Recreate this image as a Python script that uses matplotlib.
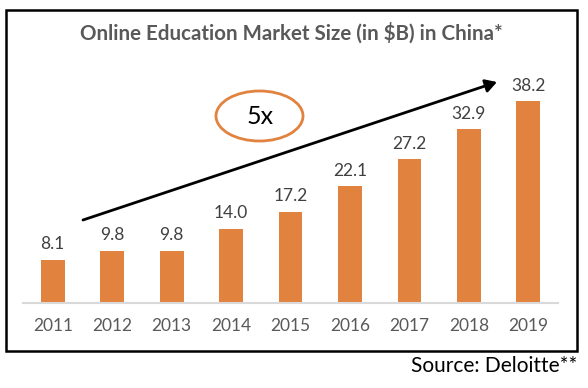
import matplotlib
matplotlib.use("Agg")
import matplotlib.pyplot as plt
from matplotlib.patches import Ellipse, Rectangle

years = ["2011", "2012", "2013", "2014", "2015", "2016", "2017", "2018", "2019"]
values = [8.1, 9.8, 9.8, 14.0, 17.2, 22.1, 27.2, 32.9, 38.2]
value_labels = ["8.1", "9.8", "9.8", "14.0", "17.2", "22.1", "27.2", "32.9", "38.2"]
title = "Online Education Market Size (in $B) in China*"
source = "Source: Deloitte**"
growth = "5x"

W, H = 588, 388
fig = plt.figure(figsize=(W / 100, H / 100), dpi=100)
plt.rcParams['font.family'] = ['Lato', 'DejaVu Sans']

def fx(px):
    return px / W

def fy(py):
    return 1 - py / H

# axes: baseline at y=302.7, left 23, right 558; 5.27 px per unit
ymax = 45
bottom_px = 302.7
height_px = ymax * 5.27
ax = fig.add_axes([fx(23), fy(bottom_px), fx(558) - fx(23), height_px / H])
x = list(range(len(years)))
bars = ax.bar(x, values, width=0.4, color="#E2823F")
ax.set_xlim(-0.5, len(years) - 0.5)
ax.set_ylim(0, ymax)
for s in ["top", "right", "left"]:
    ax.spines[s].set_visible(False)
ax.spines["bottom"].set_color("#D9D9D9")
ax.spines["bottom"].set_linewidth(1.5)
ax.set_yticks([])
ax.set_xticks(x)
ax.set_xticklabels(years, fontsize=12.5, color="#595959")
ax.tick_params(axis="x", length=0, pad=11)
for xi, v, lab in zip(x, values, value_labels):
    ax.annotate(lab, (xi, v), xytext=(0, 5.5), textcoords="offset points",
                ha="center", va="bottom", fontsize=12.5, color="#404040")

fig.text(fx(291), fy(33), title, ha="center", va="center", fontsize=14.8,
         fontweight="bold", color="#595959")
fig.text(fx(577), fy(366), source, ha="right", va="center", fontsize=15, color="black")

# border
fig.patches.append(Rectangle((fx(6), fy(351)), fx(577) - fx(6), fy(10) - fy(351),
                             transform=fig.transFigure, fill=False, edgecolor="black",
                             linewidth=1.8))

# arrow
fig.patches.append(matplotlib.patches.FancyArrowPatch(
    (fx(83), fy(220)), (fx(497), fy(82)), transform=fig.transFigure,
    arrowstyle="-|>,head_length=4.5,head_width=2.6", color="black", linewidth=2,
    mutation_scale=1.5, shrinkA=0, shrinkB=0))

# ellipse
fig.patches.append(Ellipse((fx(259.5), fy(116)), 87 / W, 50 / H, transform=fig.transFigure,
                           fill=False, edgecolor="#E2823F", linewidth=2))
fig.text(fx(260), fy(116), growth, ha="center", va="center", fontsize=18, color="black")

fig.savefig("out.png", dpi=100)
